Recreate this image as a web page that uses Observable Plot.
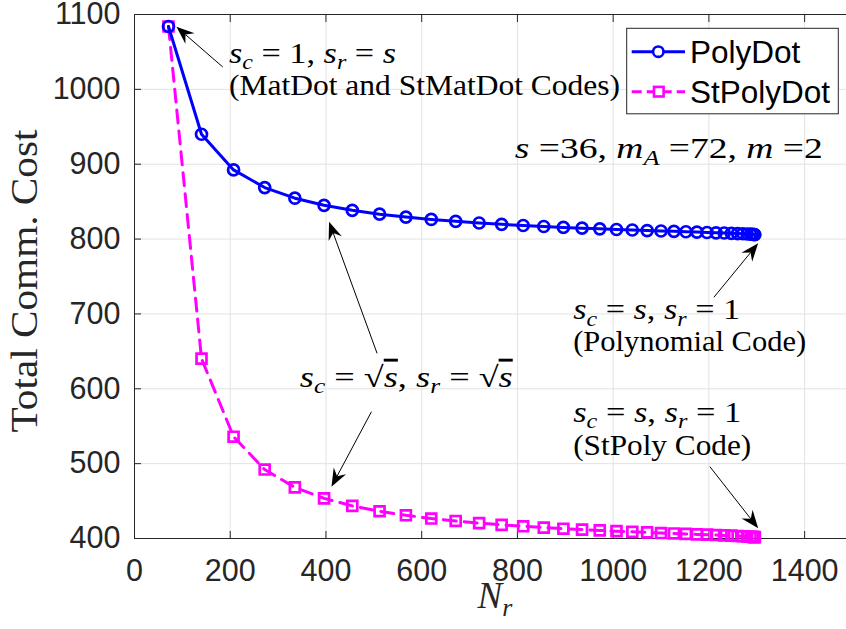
<!DOCTYPE html>
<html><head><meta charset="utf-8">
<script src="https://cdn.jsdelivr.net/npm/d3@7"></script>
<script src="https://cdn.jsdelivr.net/npm/@observablehq/plot@0.6"></script>
<style>
html,body{margin:0;padding:0;background:#fff;overflow:hidden;}
#chart{position:relative;width:846px;height:629px;overflow:hidden;}
text{white-space:pre;}
</style></head><body><div id="chart"></div>
<script>
// ---- data ----
const nrValues = [71,140,207,272,335,396,455,512,567,620,671,720,767,812,855,896,935,972,1007,1040,1071,1100,1127,1152,1175,1196,1215,1232,1247,1260,1271,1280,1287,1292,1295,1296];
const polyDotCost = [1084,940,892.4,868.8,854.6,845.1,838.4,833.3,829.4,826.2,823.7,821.5,819.7,818.1,816.8,815.6,814.6,813.7,812.8,812.1,811.4,810.8,810.3,809.8,809.3,808.8,808.4,808.1,807.7,807.4,807.1,806.8,806.5,806.3,806.1,805.8];
const stPolyDotCost = [1084,640.3,536,492.1,468.3,453.6,443.6,436.4,431,426.7,423.4,420.5,418.2,416.3,414.6,413.1,411.9,410.8,409.8,408.9,408.1,407.3,406.7,406.1,405.5,405.1,404.6,404.1,403.8,403.3,403,402.7,402.4,402.1,401.8,401.6];
const seriesNames = ["PolyDot","StPolyDot"];
const xTicks = [0,200,400,600,800,1000,1200,1400];
const yTicks = [400,500,600,700,800,900,1000,1100];
const yLabel = "Total Comm. Cost";

const polyRows = nrValues.map((n,i)=>({nr:n, cost:polyDotCost[i]}));
const stRows = nrValues.map((n,i)=>({nr:n, cost:stPolyDotCost[i]}));

// annotations: text segments (i = italic, sub = italic subscript, n = normal, ov = overlined italic)
const annTexts = [
  {segs:[["s","i"],["c","sub"],[" = 1, ","n"],["s","i"],["r","sub"],[" = ","n"],["s","i"]], at:[198.5,1034.5], w:167},
  {segs:[["(MatDot and StMatDot Codes)","n"]], at:[198.5,991.8], w:391},
  {segs:[["s","i"],[" =36, ","n"],["m","i"],["A","sub"],[" =72, ","n"],["m","i"],[" =2","n"]], at:[795.6,907.2], w:308},
  {segs:[["s","i"],["c","sub"],[" = ","n"],["s","i"],[", ","n"],["s","i"],["r","sub"],[" = 1","n"]], at:[917.5,692.2], w:167},
  {segs:[["(Polynomial Code)","n"]], at:[917.5,649.8], w:233},
  {segs:[["s","i"],["c","sub"],[" = √","n"],["s","ov"],[", ","n"],["s","i"],["r","sub"],[" = √","n"],["s","ov"]], at:[346.3,602.1], w:213},
  {segs:[["s","i"],["c","sub"],[" = ","n"],["s","i"],[", ","n"],["s","i"],["r","sub"],[" = 1","n"]], at:[917.5,555.4], w:168},
  {segs:[["(StPoly Code)","n"]], at:[917.5,510.9], w:178}
];
const arrows = [
  {from:[185.4,1029.2], to:[88.6,1083]},
  {from:[507.8,646.7], to:[407.5,822.6]},
  {from:[496.1,568.7], to:[412.5,468.5]},
  {from:[1211.5,721.6], to:[1304,793.7]},
  {from:[1203.1,495.3], to:[1304,413]}
];

const SANS = "Liberation Sans, Arial, Helvetica, sans-serif";
const SERIF = "Liberation Serif, Times New Roman, serif";
const AX = "#262626";
const BLUE = "#0000ff", MAG = "#ff00ff";

const plot = Plot.plot({
  width: 846, height: 629,
  marginLeft: 134, marginRight: -6, marginTop: 14, marginBottom: 91,
  x: {domain: [0, 1500]},
  y: {domain: [400, 1100]},
  style: {background: "transparent", overflow: "hidden"},
  marks: [
    Plot.gridX(xTicks, {stroke: "#e2e2e2", strokeOpacity: 1}),
    Plot.gridY(yTicks, {stroke: "#e2e2e2", strokeOpacity: 1}),
    Plot.frame({stroke: AX}),
    Plot.axisX(xTicks, {anchor: "bottom", tickSize: -7, tickPadding: 28, tickFormat: d => String(d), fontSize: 30.5, fontFamily: SANS, fill: AX, stroke: AX, label: null}),
    Plot.axisX(xTicks, {anchor: "top", tickSize: -7, tickFormat: () => "", stroke: AX, label: null}),
    Plot.axisY(yTicks, {anchor: "left", tickSize: -7, tickPadding: 21, tickFormat: d => String(d), fontSize: 30.5, fontFamily: SANS, fill: AX, stroke: AX, label: null}),
    Plot.axisY(yTicks, {anchor: "right", tickSize: -7, tickFormat: () => "", stroke: AX, label: null}),
    Plot.line(stRows, {x: "nr", y: "cost", stroke: MAG, strokeWidth: 3, strokeDasharray: "13,8"}),
    Plot.dot(stRows, {x: "nr", y: "cost", symbol: "square", r: 5.6, stroke: MAG, strokeWidth: 2.7, fill: "none"}),
    Plot.line(polyRows, {x: "nr", y: "cost", stroke: BLUE, strokeWidth: 3}),
    Plot.dot(polyRows, {x: "nr", y: "cost", r: 5.5, stroke: BLUE, strokeWidth: 2.7, fill: "none"})
  ]
});
document.getElementById("chart").appendChild(plot);

const sx = plot.scale("x"), sy = plot.scale("y");
const svg = d3.select(plot);
const g = svg.append("g").attr("text-anchor", "start");

function richText(parent, segs, x, y, fs, width) {
  const t = parent.append("text").attr("x", x).attr("y", y).attr("text-anchor", "start")
    .attr("font-family", SERIF).attr("font-size", fs).attr("fill", "#000");
  let shift = 0;
  for (const [s, k] of segs) {
    const ts = t.append("tspan").text(s);
    if (k === "i" || k === "sub" || k === "ov") ts.attr("font-style", "italic");
    if (k === "ov") ts.style("text-decoration", "overline");
    if (k === "sub") {
      const d = fs * 0.22;
      ts.attr("font-size", fs * 0.7).attr("dy", d - shift);
      shift = d;
    } else if (shift) {
      ts.attr("dy", -shift); shift = 0;
    }
  }
  if (width) t.attr("textLength", width).attr("lengthAdjust", "spacingAndGlyphs");
  return t;
}

for (const a of annTexts) {
  richText(g, a.segs, sx.apply(a.at[0]), sy.apply(a.at[1]), 29, a.w);
}

for (const a of arrows) {
  const x1 = sx.apply(a.from[0]), y1 = sy.apply(a.from[1]);
  const x2 = sx.apply(a.to[0]), y2 = sy.apply(a.to[1]);
  const ang = Math.atan2(y2 - y1, x2 - x1);
  const L = 18, W = 7, N = 12;
  const ux = Math.cos(ang), uy = Math.sin(ang), nx = -uy, ny = ux;
  g.append("line").attr("x1", x1).attr("y1", y1).attr("x2", x2 - ux * N).attr("y2", y2 - uy * N)
    .attr("stroke", "#000").attr("stroke-width", 1);
  const bx = x2 - ux * L, by = y2 - uy * L;
  const pts = [[x2, y2], [bx + nx * W, by + ny * W], [x2 - ux * N, y2 - uy * N], [bx - nx * W, by - ny * W]];
  g.append("polygon").attr("points", pts.map(p => p.join(",")).join(" ")).attr("fill", "#000");
}

// axis titles
const xl = richText(g, [["N","i"],["r","sub"]], 0, 0, 37, null);
xl.attr("x", 495).attr("y", 608).attr("text-anchor", "middle").attr("fill", AX);
g.append("text").attr("transform", "translate(37,281) rotate(-90)")
  .attr("text-anchor", "middle").attr("font-family", SERIF).attr("font-size", 37)
  .attr("fill", AX).attr("textLength", 303).attr("lengthAdjust", "spacingAndGlyphs").text(yLabel);

// legend
const lg = g.append("g");
lg.append("rect").attr("x", 626.7).attr("y", 28.3).attr("width", 211.6).attr("height", 85.5)
  .attr("fill", "#fff").attr("stroke", AX).attr("stroke-width", 1);
const legendRows = [
  {name: seriesNames[0], color: BLUE, dash: null, sym: "circle", y: 51.7},
  {name: seriesNames[1], color: MAG, dash: "10,5", sym: "square", y: 91.7}
];
for (const r of legendRows) {
  lg.append("line").attr("x1", 631.7).attr("x2", 685).attr("y1", r.y).attr("y2", r.y)
    .attr("stroke", r.color).attr("stroke-width", 3).attr("stroke-dasharray", r.dash);
  if (r.sym === "circle") {
    lg.append("circle").attr("cx", 658.3).attr("cy", r.y).attr("r", 5.2).attr("fill", "#fff")
      .attr("stroke", r.color).attr("stroke-width", 2.6);
  } else {
    lg.append("rect").attr("x", 658.8 - 4.8).attr("y", r.y - 4.8).attr("width", 9.6).attr("height", 9.6)
      .attr("fill", "#fff").attr("stroke", r.color).attr("stroke-width", 2.6);
  }
  lg.append("text").attr("x", 690).attr("y", r.y + 11.5).attr("text-anchor", "start").attr("font-family", SANS)
    .attr("font-size", 31.5).attr("fill", "#000").text(r.name);
}
</script>
</body></html>
